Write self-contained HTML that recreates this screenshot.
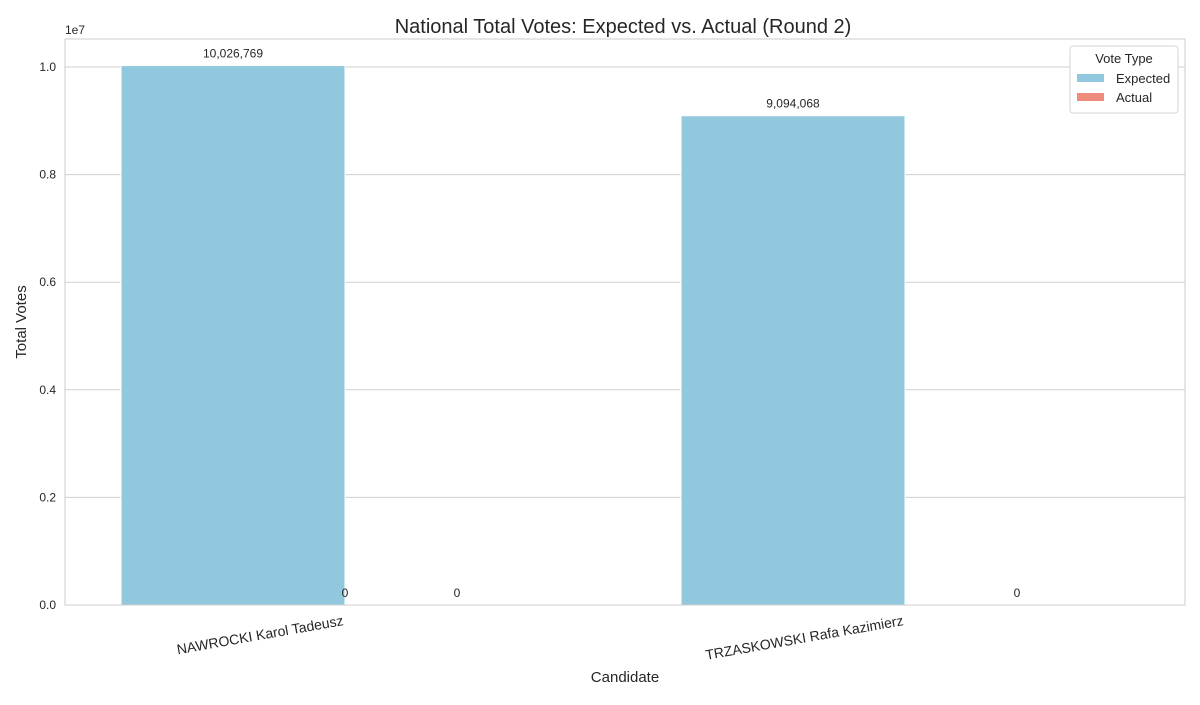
<!DOCTYPE html>
<html><head><meta charset="utf-8"><style>
body{margin:0;background:#fff;font-family:"Liberation Sans",Arial,sans-serif}
svg text{font-family:"Liberation Sans",Arial,sans-serif;fill:#262626}
</style></head><body>
<svg id="chart" width="1200" height="700"></svg>
<script>
const categories=["NAWROCKI Karol Tadeusz","TRZASKOWSKI Rafa Kazimierz"];
const expectedVals=[10026769,9094068];
const actualVals=[0,0];
const yTicks=[0,0.2,0.4,0.6,0.8,1.0];
const yTickLabels=["0.0","0.2","0.4","0.6","0.8","1.0"];
const seriesNames=["Expected","Actual"];
const seriesColors=["#92c8de","#ee8d7e"];

const L=65,R=1185,T=39,B=605;
const NS="http://www.w3.org/2000/svg";
const svg=document.getElementById('chart');
function el(t,a,txt){const e=document.createElementNS(NS,t);for(const k in a)e.setAttribute(k,a[k]);if(txt!==undefined)e.textContent=txt;svg.appendChild(e);return e;}
const y=v=>B-(v/1e7)*(605-67)/1.0;
const band=(R-L)/categories.length;
const xc=i=>L+band*(i+0.5);
const bw=band*0.8/2;

let t=el('text',{x:623,y:33,'font-size':20,'text-anchor':'middle'},"National Total Votes: Expected vs. Actual (Round 2)");

yTicks.forEach((v,i)=>{
  const g=el('line',{x1:L,x2:R,y1:y(v*1e7),y2:y(v*1e7),stroke:'#d0d0d0','stroke-width':1});
  
  const lb=el('text',{x:56,y:y(v*1e7)+4,'font-size':12,'text-anchor':'end'},yTickLabels[i]);
  
});
let ex=el('text',{x:65,y:34,'font-size':12},"1e7");

[expectedVals,actualVals].forEach((vals,s)=>{
  vals.forEach((v,i)=>{
    const x0=xc(i)-bw+s*bw;
    const r=el('rect',{x:x0,y:y(v),width:bw,height:B-y(v),fill:seriesColors[s],stroke:'#fff','stroke-width':1});
    
    const lb=el('text',{x:x0+bw/2,y:y(v)-8,'font-size':12,'text-anchor':'middle'},v.toLocaleString('en-US'));
    
  });
});
let z=el('text',{x:xc(0),y:597,'font-size':12,'text-anchor':'middle'},"0");

let fr=el('rect',{x:L,y:T,width:R-L,height:B-T,fill:'none',stroke:'#cccccc','stroke-width':1});

categories.forEach((c,i)=>{
  const lb=el('text',{x:xc(i)-1,y:625,'font-size':14,'text-anchor':'end',transform:`rotate(-10 ${xc(i)-1} 625)`},c);
  
});
let xt=el('text',{x:625,y:682,'font-size':15,'text-anchor':'middle'},"Candidate");

let yt=el('text',{x:26,y:322,'font-size':15,'text-anchor':'middle',transform:'rotate(-90 26 322)'},"Total Votes");

let lg=el('rect',{x:1070,y:46,width:108,height:67,fill:'#fff',stroke:'#d6d6d6',rx:3});

let lt=el('text',{x:1124,y:63,'font-size':13,'text-anchor':'middle'},"Vote Type");

seriesNames.forEach((n,i)=>{
  const sw=el('rect',{x:1077,y:74+i*19,width:27,height:8,fill:seriesColors[i]});
  
  const tx=el('text',{x:1116,y:83+i*19,'font-size':13},n);
  
});
</script>
</body></html>
